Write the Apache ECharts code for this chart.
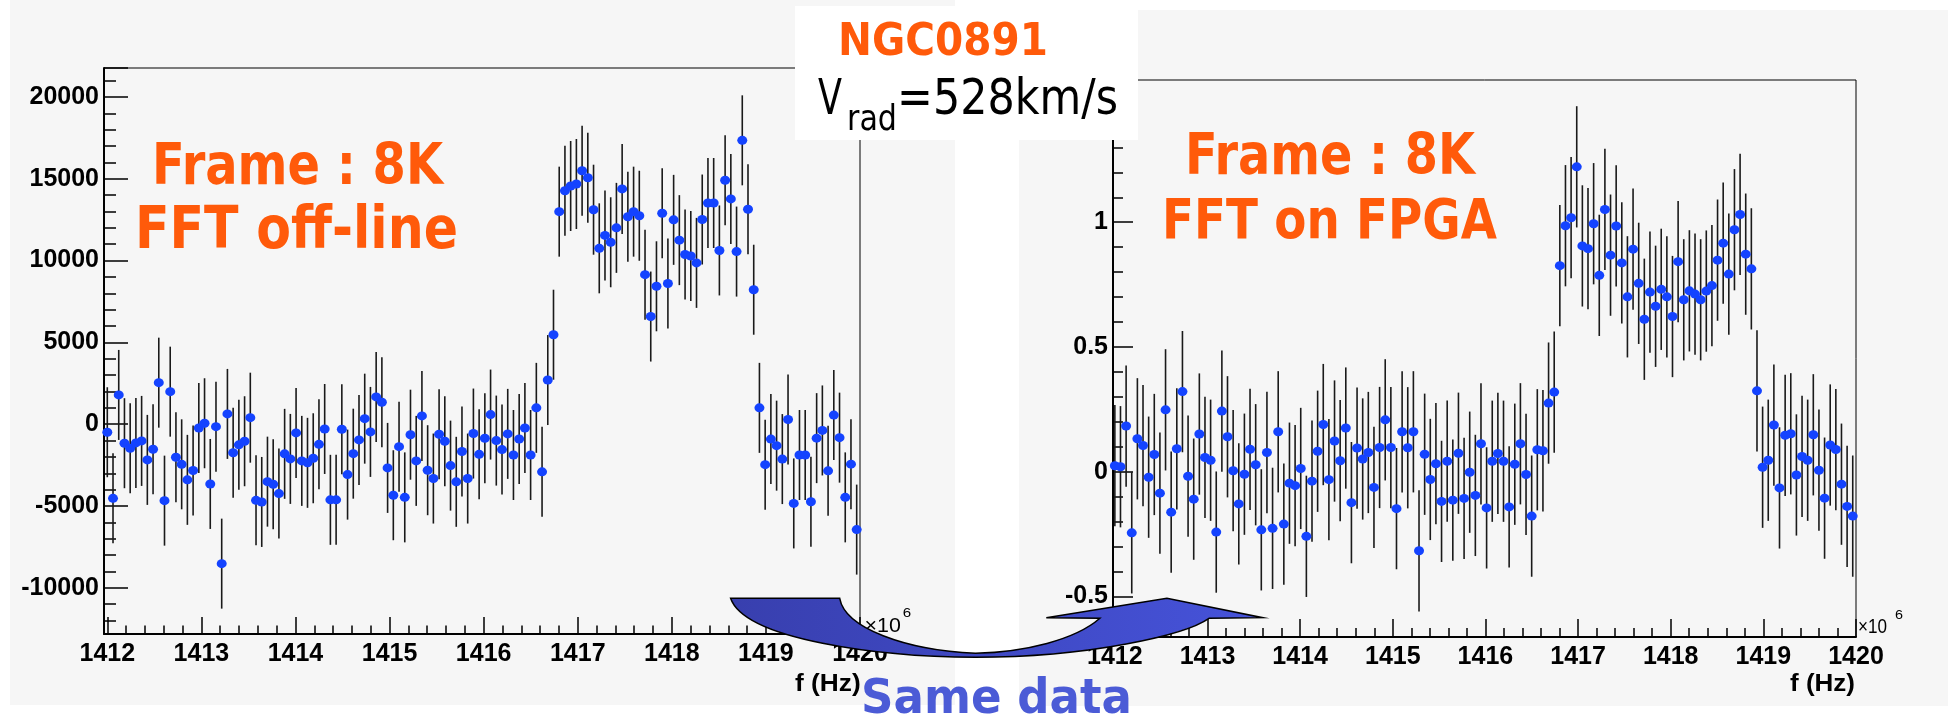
<!DOCTYPE html>
<html>
<head>
  <meta charset="UTF-8">
  <title>NGC0891 - same data</title>
  <style>
    html, body { margin: 0; padding: 0; background: #ffffff; }
    #main { width: 1950px; height: 725px; }
  </style>
  <script src="https://cdn.jsdelivr.net/npm/echarts@6/dist/echarts.min.js"></script>
</head>
<body>
<div id="main"></div>
<script>
  // frequency bins (MHz, axis shown x10^6 Hz)
  var FREQ_START = 1412.0;
  var FREQ_STEP = 0.0608;

  // left panel: FFT off-line (raw counts)
  var offlineValues = [
    -490, -4530, 1790, -1160, -1470, -1140, -1020, -2180, -1530, 2540,
    -4670, 1990, -2020, -2450, -3400, -2830, -230, 60, -3650, -150,
    -8520, 630, -1740, -1260, -1040, 400, -4650, -4750, -3510, -3670,
    -4240, -1810, -2120, -530, -2240, -2360, -2080, -1230, -290, -4620,
    -4620, -310, -3080, -1800, -960, 340, -470, 1670, 1340, -2670,
    -4340, -1370, -4470, -640, -2240, 510, -2810, -3320, -610, -1040,
    -2530, -3520, -1670, -3320, -570, -1840, -860, 590, -1000, -1550,
    -590, -1880, -900, -230, -1880, 1000, -2910, 2700, 5470, 12990,
    14270, 14560, 14680, 15490, 15060, 13110, 10750, 11540, 11120, 12000,
    14380, 12680, 12990, 12740, 9140, 6580, 8430, 12890, 8600, 12490,
    11250, 10370, 10280, 9860, 12510, 13520, 13520, 10620, 14910, 13770,
    10550, 17350, 13140, 8220, 1000, -2470, -910, -1310, -2130, 290,
    -4840, -1880, -1880, -4740, -850, -380, -2850, 560, -820, -4470,
    -2440, -6440
  ];
  var OFFLINE_ERR = 2750;

  // right panel: FFT on FPGA (normalised)
  var fpgaValues = [
    0.024, 0.020, 0.183, -0.245, 0.132, 0.105, -0.022, 0.069, -0.086, 0.248,
    -0.162, 0.092, 0.321, -0.018, -0.110, 0.151, 0.057, 0.046, -0.242, 0.243,
    0.140, 0.004, -0.129, -0.010, 0.090, 0.028, -0.233, 0.077, -0.227, 0.160,
    -0.210, -0.046, -0.056, 0.013, -0.259, -0.038, 0.082, 0.189, -0.032, 0.123,
    0.044, 0.175, -0.124, 0.095, 0.051, 0.077, -0.063, 0.097, 0.208, 0.097,
    -0.148, 0.160, 0.096, 0.160, -0.317, 0.070, -0.031, 0.032, -0.119, 0.042,
    -0.114, 0.074, -0.107, -0.002, -0.095, 0.112, -0.145, 0.042, 0.073, 0.042,
    -0.141, 0.030, 0.112, -0.011, -0.178, 0.088, 0.084, 0.275, 0.319, 0.826,
    0.986, 1.018, 1.222, 0.905, 0.894, 0.994, 0.787, 1.051, 0.868, 0.985,
    0.837, 0.701, 0.892, 0.755, 0.611, 0.720, 0.663, 0.731, 0.701, 0.622,
    0.842, 0.689, 0.725, 0.712, 0.689, 0.724, 0.746, 0.848, 0.916, 0.792,
    0.970, 1.031, 0.872, 0.813, 0.324, 0.018, 0.046, 0.187, -0.065, 0.146,
    0.152, -0.013, 0.061, 0.046, 0.148, 0.006, -0.106, 0.107, 0.089, -0.050,
    -0.139, -0.178
  ];
  var FPGA_ERR = 0.243;

  var ORANGE = '#ff5a0a';
  var MARKER = '#1443ff';
  var PANEL = '#f6f6f6';

  function points(values) {
    return values.map(function (v, i) { return [FREQ_START + i * FREQ_STEP, v]; });
  }
  function bars(values, err) {
    return values.map(function (v, i) { return [FREQ_START + i * FREQ_STEP, v - err, v + err]; });
  }

  function errorBar(params, api) {
    var p1 = api.coord([api.value(0), api.value(1)]);
    var p2 = api.coord([api.value(0), api.value(2)]);
    return {
      type: 'line',
      shape: { x1: p1[0], y1: p1[1], x2: p2[0], y2: p2[1] },
      style: { stroke: '#1a1a1a', lineWidth: 1.6 }
    };
  }

  function stepLabel(step) {
    return function (v) {
      var k = v / step;
      return Math.abs(k - Math.round(k)) < 1e-6 ? String(+v.toFixed(3)) : '';
    };
  }

  var tickFont = { fontFamily: 'Liberation Sans', fontWeight: 'bold', fontSize: 25, color: '#000' };

  function xAxis(grid, min, tickLen) {
    return {
      type: 'value', gridIndex: grid, min: min, max: 1420, splitNumber: 8,
      axisLine: { onZero: false, lineStyle: { color: '#000', width: 2 } },
      axisTick: { inside: true, length: tickLen, lineStyle: { color: '#000', width: 1.5 } },
      minorTick: { show: true, splitNumber: 5, length: tickLen / 2, lineStyle: { color: '#000', width: 1.5 } },
      splitLine: { show: false },
      axisLabel: Object.assign({ margin: 8, formatter: stepLabel(1) }, tickFont)
    };
  }
  function yAxis(grid, min, max, split, step, tickLen) {
    return {
      type: 'value', gridIndex: grid, min: min, max: max, splitNumber: split,
      axisLine: { onZero: false, lineStyle: { color: '#000', width: 2 } },
      axisTick: { inside: true, length: tickLen, lineStyle: { color: '#000', width: 1.5 } },
      minorTick: { show: true, splitNumber: 5, length: tickLen / 2, lineStyle: { color: '#000', width: 1.5 } },
      splitLine: { show: false },
      axisLabel: Object.assign({ margin: 5, formatter: stepLabel(step) }, tickFont)
    };
  }

  // text fitted to the box it takes in the picture
  var measure = document.createElement('canvas').getContext('2d');
  function label(str, family, weight, size, color, x0, x1, capTop, base) {
    measure.font = weight + ' ' + size + 'px "' + family + '"';
    var w = measure.measureText(str).width;
    return {
      type: 'text', x: x0, y: (capTop + base) / 2, scaleX: (x1 - x0) / w, z: 30, silent: true,
      style: {
        text: str, fontFamily: family, fontWeight: weight, fontSize: size,
        fill: color, align: 'left', verticalAlign: 'middle'
      }
    };
  }

  // the curved "same data" arrow between the panels
  var arrowPath = 'M730.6 598.3 L839.7 598.3 C845 628 905 650 975.5 653.3 ' +
    'C1025 652 1075 640 1099.9 618.3 L1046.3 617.7 L1166.9 598.3 L1262.6 617.7 L1209 618.3 ' +
    'C1185 635 1090 657 975.5 657.3 C880 657 745 640 730.6 598.3 Z';

  function drawArrow() {
    return {
      type: 'path',
      shape: { pathData: arrowPath },
      style: {
        fill: {
          type: 'linear', x: 0, y: 0, x2: 1, y2: 0,
          colorStops: [{ offset: 0, color: '#383fae' }, { offset: 1, color: '#4653da' }]
        },
        stroke: '#000', lineWidth: 1.5
      }
    };
  }

  var chart = echarts.init(document.getElementById('main'));

  var option = {
    animation: false,
    backgroundColor: '#ffffff',
    grid: [
      { left: 104, top: 68, width: 756, height: 566, show: true, borderColor: '#000', borderWidth: 1, outerBoundsMode: 'none' },
      { left: 1113, top: 80, width: 743, height: 557, show: true, borderColor: '#000', borderWidth: 1, outerBoundsMode: 'none' }
    ],
    xAxis: [xAxis(0, 1411.965, 17), xAxis(1, 1411.98, 18)],
    yAxis: [
      yAxis(0, -12820, 21770, 7, 5000, 24),
      yAxis(1, -0.6625, 1.57, 5, 0.5, 20)
    ],
    series: [
      { type: 'custom', xAxisIndex: 0, yAxisIndex: 0, renderItem: errorBar, data: bars(offlineValues, OFFLINE_ERR), encode: { x: 0, y: [1, 2] }, z: 2, silent: true },
      { type: 'scatter', xAxisIndex: 0, yAxisIndex: 0, data: points(offlineValues), symbolSize: [10, 9], itemStyle: { color: MARKER, opacity: 1 }, z: 3, silent: true },
      { type: 'custom', xAxisIndex: 1, yAxisIndex: 1, renderItem: errorBar, data: bars(fpgaValues, FPGA_ERR), encode: { x: 0, y: [1, 2] }, z: 2, silent: true },
      { type: 'scatter', xAxisIndex: 1, yAxisIndex: 1, data: points(fpgaValues), symbolSize: [10, 9], itemStyle: { color: MARKER, opacity: 1 }, z: 3, silent: true },
      { type: 'custom', coordinateSystem: 'none', renderItem: drawArrow, data: [[0]], z: 40, silent: true }
    ],
    graphic: [
      { type: 'rect', z: -10, silent: true, shape: { x: 10, y: 0, width: 945, height: 705 }, style: { fill: PANEL } },
      { type: 'rect', z: -10, silent: true, shape: { x: 1019, y: 10, width: 929, height: 696 }, style: { fill: PANEL } },
      { type: 'rect', z: 20, silent: true, shape: { x: 795, y: 6, width: 343, height: 134 }, style: { fill: '#ffffff' } },
      label('NGC0891', 'DejaVu Sans', 'bold', 44, ORANGE, 838, 1048, 27.7, 60.1),
      label('V', 'DejaVu Sans', 'normal', 49, '#000', 818, 842, 83.2, 119.3),
      label('rad', 'DejaVu Sans', 'normal', 35, '#000', 847, 897, 108.3, 133.5),
      label('=528km/s', 'DejaVu Sans', 'normal', 49, '#000', 897, 1118, 83.2, 119.3),
      label('Frame : 8K', 'DejaVu Sans', 'bold', 57, ORANGE, 152, 443, 148, 189.6),
      label('FFT off-line', 'DejaVu Sans', 'bold', 59, ORANGE, 135, 458, 210.4, 254),
      label('Frame : 8K', 'DejaVu Sans', 'bold', 57, ORANGE, 1185, 1475, 138.7, 180.3),
      label('FFT on FPGA', 'DejaVu Sans', 'bold', 56, ORANGE, 1162, 1497, 203.4, 244.1),
      label('f (Hz)', 'Liberation Sans', 'bold', 23, '#000', 795, 860.7, 677, 693),
      label('f (Hz)', 'Liberation Sans', 'bold', 23, '#000', 1790, 1855, 677, 693),
      label('\u00d710', 'Liberation Sans', 'normal', 21, '#000', 864.6, 900.9, 618.3, 633.3),
      label('6', 'Liberation Sans', 'normal', 13, '#000', 902.8, 911.2, 609.3, 617.7),
      label('\u00d710', 'Liberation Sans', 'normal', 21, '#000', 1858, 1887, 619.6, 635.8),
      label('6', 'Liberation Sans', 'normal', 13, '#000', 1895, 1903, 609, 622),
      label('Same data', 'DejaVu Sans', 'bold', 48, '#4b5bd6', 861, 1132, 683.3, 718.3)
    ]
  };

  chart.setOption(option);
</script>
</body>
</html>
